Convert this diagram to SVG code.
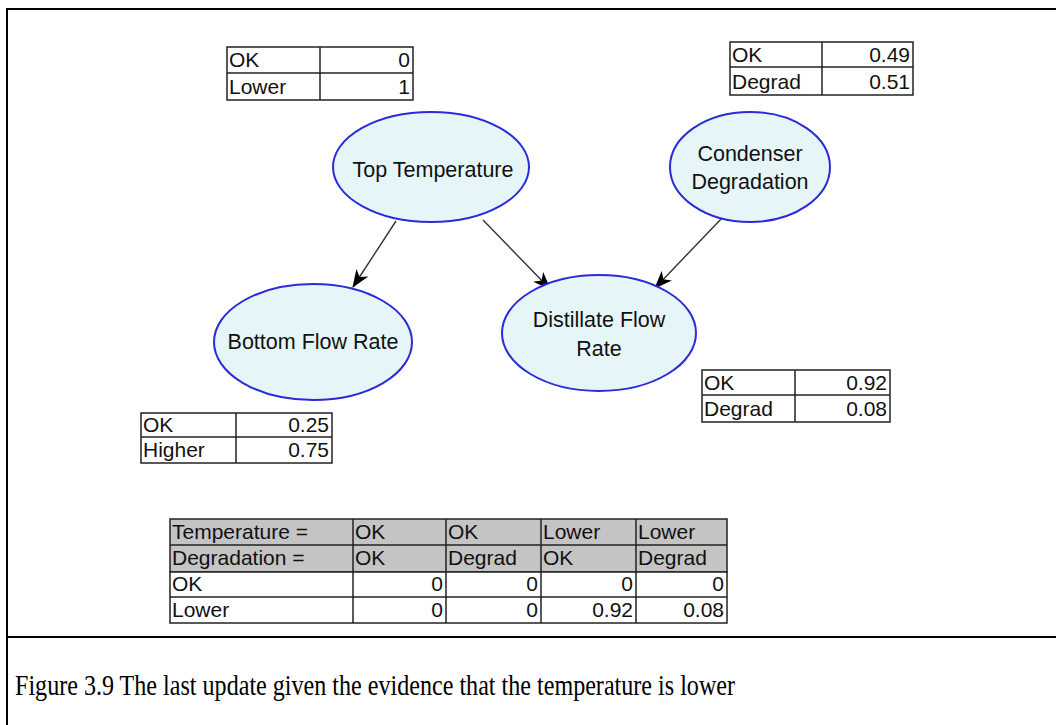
<svg xmlns="http://www.w3.org/2000/svg" width="1056" height="725" viewBox="0 0 1056 725">
<defs>
<style>
.frame{stroke:#000;stroke-width:2;fill:none}
.node ellipse{fill:#e6f6f8;stroke:#2b2bd8;stroke-width:2}
.lbl{font-family:"Liberation Sans",Arial,sans-serif;font-size:21.5px;fill:#111;text-anchor:middle}
.t{font-family:"Liberation Sans",Arial,sans-serif;font-size:21px;fill:#111}
.r{text-anchor:end}
.cell{fill:#fff;stroke:#222;stroke-width:1.5}
.hdr{fill:#c4c4c4;stroke:#222;stroke-width:1.5}
.ln{stroke:#222;stroke-width:1.5}
.edge{stroke:#333;stroke-width:1.4;fill:none;marker-end:url(#ah)}
.cap{font-family:"Liberation Serif","Times New Roman",serif;font-size:30px;fill:#000}
</style>
<marker id="ah" viewBox="0 0 18 14" refX="17" refY="7" markerWidth="18" markerHeight="14" markerUnits="userSpaceOnUse" orient="auto">
<path d="M0,0 L18,7 L0,14 L5,7 Z" fill="#000"/>
</marker>
</defs>
<rect width="1056" height="725" fill="#fff"/>
<path class="frame" d="M7,725 V9 H1056 M7,637 H1056"/>

<g id="connectors">
<line class="edge" x1="396" y1="221" x2="353" y2="287"/>
<line class="edge" x1="483" y1="220" x2="550" y2="289"/>
<line class="edge" x1="722" y1="218" x2="655" y2="288"/>
</g>

<g id="node-top-temperature" class="node">
<ellipse cx="431" cy="167" rx="98" ry="55"/>
<text class="lbl" x="433" y="177">Top Temperature</text>
</g>
<g id="node-condenser-degradation" class="node">
<ellipse cx="750" cy="167" rx="80" ry="55"/>
<text class="lbl" x="750" y="161">Condenser</text>
<text class="lbl" x="750" y="189">Degradation</text>
</g>
<g id="node-bottom-flow-rate" class="node">
<ellipse cx="313" cy="342" rx="99" ry="58"/>
<text class="lbl" x="313" y="349">Bottom Flow Rate</text>
</g>
<g id="node-distillate-flow-rate" class="node">
<ellipse cx="599" cy="333" rx="97" ry="58"/>
<text class="lbl" x="599" y="327">Distillate Flow</text>
<text class="lbl" x="599" y="356">Rate</text>
</g>

<g id="table-top-temperature">
<rect class="cell" x="227" y="47" width="186" height="53"/>
<line class="ln" x1="227" y1="73" x2="413" y2="73"/>
<line class="ln" x1="320" y1="47" x2="320" y2="100"/>
<text class="t" x="229" y="67">OK</text>
<text class="t r" x="410" y="67">0</text>
<text class="t" x="229" y="94">Lower</text>
<text class="t r" x="410" y="94">1</text>
</g>

<g id="table-condenser">
<rect class="cell" x="730" y="42" width="183" height="53"/>
<line class="ln" x1="730" y1="67" x2="913" y2="67"/>
<line class="ln" x1="822" y1="42" x2="822" y2="95"/>
<text class="t" x="732" y="62">OK</text>
<text class="t r" x="910" y="62">0.49</text>
<text class="t" x="732" y="89">Degrad</text>
<text class="t r" x="910" y="89">0.51</text>
</g>

<g id="table-bottom-flow">
<rect class="cell" x="141" y="413" width="191" height="50"/>
<line class="ln" x1="141" y1="437" x2="332" y2="437"/>
<line class="ln" x1="236" y1="413" x2="236" y2="463"/>
<text class="t" x="143" y="432">OK</text>
<text class="t r" x="329" y="432">0.25</text>
<text class="t" x="143" y="457">Higher</text>
<text class="t r" x="329" y="457">0.75</text>
</g>

<g id="table-distillate">
<rect class="cell" x="702" y="370" width="188" height="52"/>
<line class="ln" x1="702" y1="395" x2="890" y2="395"/>
<line class="ln" x1="795" y1="370" x2="795" y2="422"/>
<text class="t" x="704" y="390">OK</text>
<text class="t r" x="887" y="390">0.92</text>
<text class="t" x="704" y="416">Degrad</text>
<text class="t r" x="887" y="416">0.08</text>
</g>

<g id="table-cpt">
<rect class="hdr" x="170" y="519" width="557" height="53"/>
<rect class="cell" x="170" y="572" width="557" height="51"/>
<line class="ln" x1="170" y1="545" x2="727" y2="545"/>
<line class="ln" x1="170" y1="597" x2="727" y2="597"/>
<line class="ln" x1="353" y1="519" x2="353" y2="623"/>
<line class="ln" x1="446" y1="519" x2="446" y2="623"/>
<line class="ln" x1="541" y1="519" x2="541" y2="623"/>
<line class="ln" x1="636" y1="519" x2="636" y2="623"/>
<text class="t" x="172" y="539">Temperature =</text>
<text class="t" x="355" y="539">OK</text>
<text class="t" x="448" y="539">OK</text>
<text class="t" x="543" y="539">Lower</text>
<text class="t" x="638" y="539">Lower</text>
<text class="t" x="172" y="565">Degradation =</text>
<text class="t" x="355" y="565">OK</text>
<text class="t" x="448" y="565">Degrad</text>
<text class="t" x="543" y="565">OK</text>
<text class="t" x="638" y="565">Degrad</text>
<text class="t" x="172" y="591">OK</text>
<text class="t r" x="443" y="591">0</text>
<text class="t r" x="538" y="591">0</text>
<text class="t r" x="633" y="591">0</text>
<text class="t r" x="724" y="591">0</text>
<text class="t" x="172" y="617">Lower</text>
<text class="t r" x="443" y="617">0</text>
<text class="t r" x="538" y="617">0</text>
<text class="t r" x="633" y="617">0.92</text>
<text class="t r" x="724" y="617">0.08</text>
</g>

<text class="cap" x="15" y="695" textLength="720" lengthAdjust="spacingAndGlyphs">Figure 3.9 The last update given the evidence that the temperature is lower</text>
</svg>
